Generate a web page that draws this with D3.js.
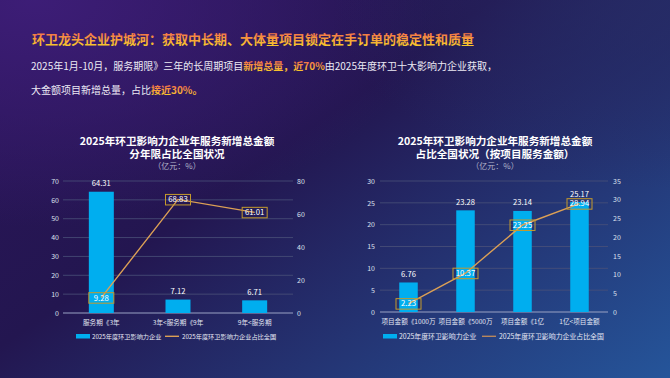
<!DOCTYPE html>
<html><head><meta charset="utf-8">
<script src="https://cdn.jsdelivr.net/npm/d3@7/dist/d3.min.js"></script>
<style>
html,body{margin:0;padding:0;background:#231447;}
svg{display:block;font-family:"Noto Sans CJK SC","Noto Sans",sans-serif;}
</style></head>
<body>
<svg id="c" width="670" height="378"></svg>
<script>
// ---- data ----
const leftCategories = ["服务期《3年", "3年<服务期《9年", "9年<服务期"];
const leftBarValues = [64.31, 7.12, 6.71];
const leftLineValues = [9.28, 68.83, 61.01];
const leftYTicks = [0, 10, 20, 30, 40, 50, 60, 70];
const leftY2Ticks = [0, 20, 40, 60, 80];

const rightCategories = ["项目金额《1000万", "项目金额《5000万", "项目金额《1亿", "1亿<项目金额"];
const rightBarValues = [6.76, 23.28, 23.14, 25.17];
const rightLineValues = [2.23, 10.37, 23.25, 28.94];
const rightYTicks = [0, 5, 10, 15, 20, 25, 30];
const rightY2Ticks = [0, 5, 10, 15, 20, 25, 30, 35];

const barSeriesName = "2025年度环卫影响力企业";
const lineSeriesName = "2025年度环卫影响力企业占比全国";

const svg = d3.select("#c");
const defs = svg.append("defs");

// background
const bg = defs.append("linearGradient").attr("id", "bg")
  .attr("x1", 0).attr("y1", 0.2).attr("x2", 1).attr("y2", 1);
bg.append("stop").attr("offset", 0).attr("stop-color", "#2a1558");
bg.append("stop").attr("offset", 0.35).attr("stop-color", "#231650");
bg.append("stop").attr("offset", 1).attr("stop-color", "#25559a");
const glow = defs.append("radialGradient").attr("id", "glow")
  .attr("cx", 0.05).attr("cy", 0.0).attr("r", 0.6);
glow.append("stop").attr("offset", 0).attr("stop-color", "#3f1e7a").attr("stop-opacity", 0.9);
glow.append("stop").attr("offset", 1).attr("stop-color", "#3f1e7a").attr("stop-opacity", 0);
const glow2 = defs.append("radialGradient").attr("id", "glow2")
  .attr("cx", 1).attr("cy", 0.0).attr("r", 0.5);
glow2.append("stop").attr("offset", 0).attr("stop-color", "#262c66").attr("stop-opacity", 0.8);
glow2.append("stop").attr("offset", 1).attr("stop-color", "#262c66").attr("stop-opacity", 0);

svg.append("rect").attr("width", 670).attr("height", 378).attr("fill", "url(#bg)");
svg.append("rect").attr("width", 670).attr("height", 378).attr("fill", "url(#glow)");
svg.append("rect").attr("width", 670).attr("height", 378).attr("fill", "url(#glow2)");

function textGrad(id, y1, y2) {
  const g = defs.append("linearGradient").attr("id", id)
    .attr("gradientUnits", "userSpaceOnUse").attr("x1", 0).attr("x2", 0).attr("y1", y1).attr("y2", y2);
  g.append("stop").attr("offset", 0).attr("stop-color", "#f2654e");
  g.append("stop").attr("offset", 1).attr("stop-color", "#f8c62c");
}
textGrad("tg1", 31, 45);
textGrad("tg2", 60, 71);
textGrad("tg3", 84, 95);

// header
svg.append("text").attr("x", 32).attr("y", 43.5)
  .attr("font-size", 13.0).attr("font-weight", "bold").attr("fill", "url(#tg1)")
  .text("环卫龙头企业护城河：获取中长期、大体量项目锁定在手订单的稳定性和质量");

const l2 = svg.append("text").attr("x", 31).attr("y", 70).attr("font-size", 10).attr("fill", "#eceaf4");
l2.append("tspan").text("2025年1月-10月，服务期限》三年的长周期项目");
l2.append("tspan").attr("fill", "url(#tg2)").attr("font-weight", "bold").text("新增总量，近70%");
l2.append("tspan").text("由2025年度环卫十大影响力企业获取，");

const l3 = svg.append("text").attr("x", 31).attr("y", 94).attr("font-size", 10).attr("fill", "#eceaf4");
l3.append("tspan").text("大金额项目新增总量，占比");
l3.append("tspan").attr("fill", "url(#tg3)").attr("font-weight", "bold").text("接近30%。");

const BAR = "#00aeef", LINE = "#dca055", BOX = "#c49a2c";

function drawChart(o) {
  const g = svg.append("g");
  // titles
  o.titles.forEach((t, i) => {
    g.append("text").attr("x", o.cx).attr("y", 145 + i * 12.5).attr("text-anchor", "middle")
      .attr("font-size", 10.6).attr("font-weight", "bold").attr("fill", "#ffffff").text(t);
  });
  g.append("text").attr("x", o.cx).attr("y", 169).attr("text-anchor", "middle")
    .attr("font-size", 8).attr("fill", "#b4b8cc").text("（亿元：%）");

  const x = d3.scaleBand().domain(o.cats).range([o.x0, o.x1]).paddingInner(0).paddingOuter(0);
  const y = d3.scaleLinear().domain([0, d3.max(o.yTicks)]).range([o.yb, o.yt]);
  const y2 = d3.scaleLinear().domain([0, d3.max(o.y2Ticks)]).range([o.yb, o.yt]);

  // grid
  g.selectAll(".grid").data(o.yTicks.filter(d => d > 0)).join("line")
    .attr("x1", o.x0).attr("x2", o.x1).attr("y1", d => y(d)).attr("y2", d => y(d))
    .attr("stroke", "#4a5078").attr("stroke-width", 0.8);
  g.append("line").attr("x1", o.x0).attr("x2", o.x1).attr("y1", o.yb).attr("y2", o.yb)
    .attr("stroke", "#9aa2c4").attr("stroke-width", 1.2);

  // left axis
  const ax = d3.axisLeft(y).tickValues(o.yTicks).tickSize(0).tickPadding(0);
  const ag = g.append("g").attr("transform", `translate(${o.lx},0)`).call(ax);
  ag.select(".domain").remove();
  ag.selectAll("text").attr("font-size", 7).attr("fill", "#dde0ee").attr("font-family", "Noto Sans CJK SC");
  const ax2 = d3.axisRight(y2).tickValues(o.y2Ticks).tickSize(0).tickPadding(0);
  const ag2 = g.append("g").attr("transform", `translate(${o.rx},0)`).call(ax2);
  ag2.select(".domain").remove();
  ag2.selectAll("text").attr("font-size", 7).attr("fill", "#dde0ee").attr("font-family", "Noto Sans CJK SC");

  // x labels
  const axb = d3.axisBottom(x).tickSize(0).tickPadding(0);
  const bgx = g.append("g").attr("transform", `translate(0,${o.yb + 7})`).call(axb);
  bgx.select(".domain").remove();
  bgx.selectAll("text").attr("font-size", 6.6).attr("fill", "#e2e5f2").attr("font-family", "Noto Sans CJK SC");

  // bars
  const bw = o.bw;
  const cx = (i) => x(o.cats[i]) + x.bandwidth() / 2;
  g.selectAll(".bar").data(o.bars).join("rect")
    .attr("x", (d, i) => cx(i) - bw / 2)
    .attr("width", bw)
    .attr("y", d => y(d)).attr("height", d => o.yb - y(d)).attr("fill", BAR);
  g.selectAll(".bl").data(o.bars).join("text")
    .attr("x", (d, i) => cx(i))
    .attr("y", d => y(d) - 5.5).attr("text-anchor", "middle")
    .attr("font-size", 7.6).attr("fill", "#ffffff").text(d => d.toFixed(2));

  // line
  const line = d3.line().x((d, i) => cx(i)).y(d => y2(d));
  g.append("path").datum(o.line).attr("d", line).attr("fill", "none")
    .attr("stroke", LINE).attr("stroke-width", 1.4);
  const lb = g.selectAll(".lb").data(o.line).join("g")
    .attr("transform", (d, i) => `translate(${cx(i)},${y2(d)})`);
  lb.append("rect").attr("x", -12.5).attr("y", -5).attr("width", 25).attr("height", 10.5)
    .attr("fill", "none").attr("stroke", BOX).attr("stroke-width", 1);
  lb.append("text").attr("y", 2.8).attr("text-anchor", "middle").attr("font-size", 7.8)
    .attr("fill", "#ffffff").text(d => d.toFixed(2));

  // legend
  const L = o.legend;
  g.append("rect").attr("x", L.rx).attr("y", 334).attr("width", 14).attr("height", 4.5).attr("fill", BAR);
  g.append("text").attr("x", L.rx + 16).attr("y", 338.6).attr("font-size", L.fs).attr("fill", "#e6e8f4").text(barSeriesName);
  g.append("line").attr("x1", L.lx).attr("x2", L.lx + 14).attr("y1", 336.3).attr("y2", 336.3)
    .attr("stroke", L.lc).attr("stroke-width", 1.4);
  g.append("text").attr("x", L.lx + 17).attr("y", 338.6).attr("font-size", L.fs).attr("fill", "#e6e8f4").text(lineSeriesName);
}

drawChart({
  titles: ["2025年环卫影响力企业年服务新增总金额", "分年限占比全国状况"],
  cx: 177, cats: leftCategories, bars: leftBarValues, line: leftLineValues,
  yTicks: leftYTicks, y2Ticks: leftY2Ticks,
  x0: 63, x1: 293, yt: 181, yb: 313, lx: 59, rx: 297, bw: 25,
  legend: { rx: 76, lx: 165, fs: 6.2, lc: LINE }
});
drawChart({
  titles: ["2025年环卫影响力企业年服务新增总金额", "占比全国状况（按项目服务金额）"],
  cx: 495, cats: rightCategories, bars: rightBarValues, line: rightLineValues,
  yTicks: rightYTicks, y2Ticks: rightY2Ticks,
  x0: 380, x1: 608, yt: 181, yb: 312, lx: 375, rx: 613, bw: 18.5,
  legend: { rx: 383, lx: 482, fs: 6.9, lc: "#b8875c" }
});
</script>
</body></html>
